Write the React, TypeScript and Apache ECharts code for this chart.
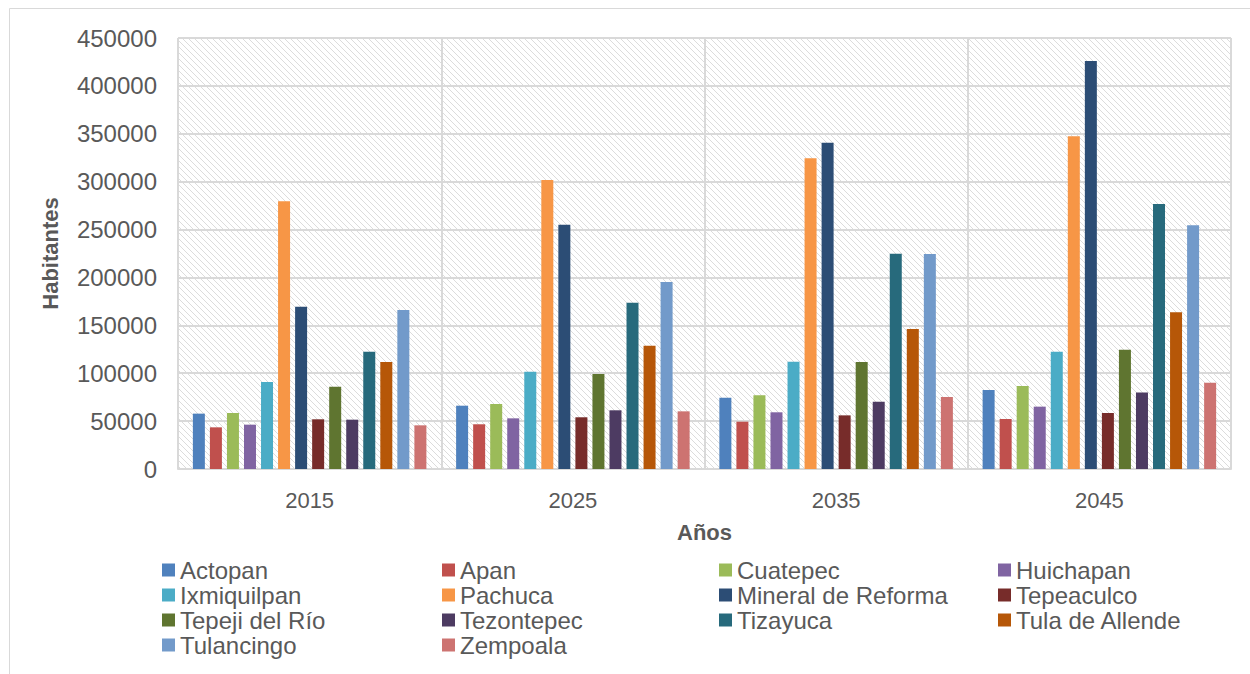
import React, { useEffect, useRef } from "react";
import * as echarts from "echarts";

const years = ["2015", "2025", "2035", "2045"];
const seriesNames = [
  "Actopan", "Apan", "Cuatepec", "Huichapan", "Ixmiquilpan", "Pachuca",
  "Mineral de Reforma", "Tepeaculco", "Tepeji del Río", "Tezontepec",
  "Tizayuca", "Tula de Allende", "Tulancingo", "Zempoala",
];
const actopan = [57800, 66100, 74500, 82500];
const apan = [43500, 46700, 49400, 52200];
const cuatepec = [58500, 67900, 76900, 86700];
const huichapan = [46300, 52900, 59200, 65100];
const ixmiquilpan = [90800, 101600, 112000, 122500];
const pachuca = [279500, 301700, 324400, 347300];
const mineral = [169500, 255100, 340700, 426000];
const tepeaculco = [51900, 54000, 56000, 58500];
const tepeji = [86000, 99200, 111700, 124600];
const tezontepec = [51500, 61300, 70300, 80000];
const tizayuca = [122500, 173700, 224800, 276700];
const tula = [111700, 128800, 146200, 163600];
const tulancingo = [166000, 195200, 224500, 254400];
const zempoala = [45600, 60200, 75200, 90100];
const seriesValues = [
  actopan, apan, cuatepec, huichapan, ixmiquilpan, pachuca, mineral,
  tepeaculco, tepeji, tezontepec, tizayuca, tula, tulancingo, zempoala,
];
const colors = [
  "#4F81BD", "#C0504D", "#9BBB59", "#8064A2", "#4BACC6", "#F79646", "#2C4D75",
  "#772C2A", "#5F7530", "#4D3B62", "#276A7C", "#B65708", "#729ACA", "#CD7371",
];
const legendColumns = [
  ["Actopan", "Ixmiquilpan", "Tepeji del Río", "Tulancingo"],
  ["Apan", "Pachuca", "Tezontepec", "Zempoala"],
  ["Cuatepec", "Mineral de Reforma", "Tizayuca"],
  ["Huichapan", "Tepeaculco", "Tula de Allende"],
];
const legendLefts = [162, 442, 719, 998];
const yTickMax = 450000;
const yTickStep = 50000;

const FONT = "Arial, 'Liberation Sans', sans-serif";
const TXT = "#595959";

function makeHatch() {
  const c = document.createElement("canvas");
  const n = 6;
  c.width = n;
  c.height = n;
  const ctx = c.getContext("2d")!;
  ctx.fillStyle = "#ffffff";
  ctx.fillRect(0, 0, n, n);
  ctx.fillStyle = "#dcdcdc";
  for (let i = 0; i < n; i++) {
    ctx.fillRect(i, i, 1, 1);
  }
  return c;
}

export default function App() {
  const ref = useRef<HTMLDivElement>(null);
  useEffect(() => {
    if (!ref.current) return;
    const chart = echarts.init(ref.current, undefined, { renderer: "svg" });
    const hatch = makeHatch();
    chart.setOption({
      animation: false,
      backgroundColor: "#ffffff",
      textStyle: { fontFamily: FONT },
      graphic: [
        {
          type: "rect",
          shape: { x: 9.5, y: 8.5, width: 1260, height: 700 },
          style: { fill: "none", stroke: "#d9d9d9", lineWidth: 1 },
          silent: true,
        },
      ],
      grid: {
        left: 178,
        right: 19,
        top: 38,
        bottom: 205,
        show: true,
        borderWidth: 0,
        backgroundColor: { image: hatch, repeat: "repeat" },
      },
      legend: legendColumns.map((col, i) => ({
        data: col,
        orient: "vertical",
        left: legendLefts[i],
        top: 558,
        padding: 0,
        itemWidth: 13,
        itemHeight: 13,
        itemGap: 1,
        icon: "rect",
        textStyle: { fontSize: 24, color: TXT, fontFamily: FONT, lineHeight: 23 },
      })),
      xAxis: {
        type: "category",
        data: years,
        axisLine: { show: true, lineStyle: { color: "#d9d9d9", width: 2 } },
        axisTick: { show: false },
        axisLabel: { fontSize: 22, color: TXT, margin: 20 },
        splitLine: { show: true, lineStyle: { color: "#d9d9d9", width: 2 } },
        name: "Años",
        nameLocation: "middle",
        nameGap: 52,
        nameTextStyle: { fontSize: 22, fontWeight: "bold", color: TXT },
      },
      yAxis: {
        type: "value",
        min: 0,
        max: yTickMax,
        interval: yTickStep,
        axisLine: { show: false },
        axisTick: { show: false },
        axisLabel: {
          fontSize: 24,
          color: TXT,
          margin: 21,
          formatter: (v: number) => String(v),
        },
        splitLine: { show: true, lineStyle: { color: "#d9d9d9", width: 2 } },
        name: "Habitantes",
        nameLocation: "middle",
        nameGap: 117,
        nameTextStyle: { fontSize: 22, fontWeight: "bold", color: TXT },
      },
      series: seriesNames.map((name, i) => ({
        name,
        type: "bar",
        data: seriesValues[i],
        barWidth: 12,
        barGap: "42%",
        itemStyle: { color: colors[i] },
      })),
    });
    return () => chart.dispose();
  }, []);
  return (
    <div
      ref={ref}
      style={{ position: "absolute", left: 0, top: 0, width: 1250, height: 674 }}
    />
  );
}
